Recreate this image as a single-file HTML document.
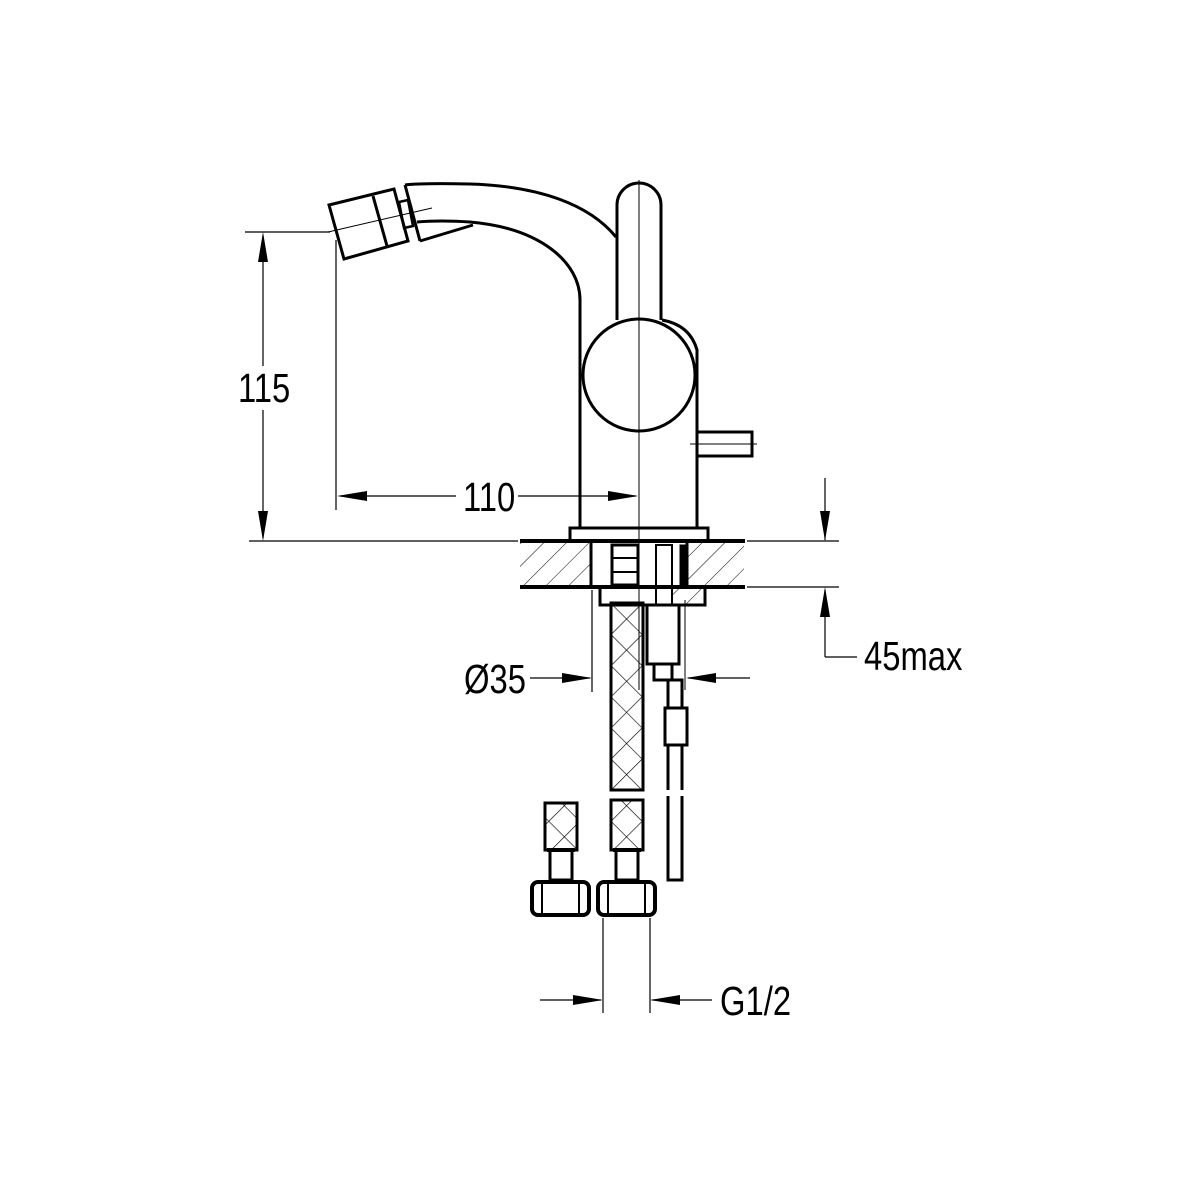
<!DOCTYPE html>
<html><head><meta charset="utf-8"><style>
html,body{margin:0;padding:0;background:#fff;}
svg{display:block}
text{font-family:"Liberation Sans",sans-serif;fill:#000;}
</style></head><body>
<svg width="1200" height="1200" viewBox="0 0 1200 1200" xmlns="http://www.w3.org/2000/svg">
<defs>
<pattern id="hatch" width="16" height="16" patternUnits="userSpaceOnUse" patternTransform="rotate(45)">
<line x1="0" y1="0" x2="0" y2="16" stroke="#000" stroke-width="1"/>
</pattern>
<pattern id="cross" width="22" height="22" patternUnits="userSpaceOnUse" patternTransform="translate(611 603) rotate(45)">
<line x1="0" y1="0" x2="0" y2="22" stroke="#000" stroke-width="1.3"/>
<line x1="0" y1="0" x2="22" y2="0" stroke="#000" stroke-width="1.3"/>
</pattern>
</defs>
<rect width="1200" height="1200" fill="#fff"/>
<g fill="none" stroke="#000">
<!-- spout -->
<path d="M405 185 Q420 183 470 184 C540 186 590 205 616 237" stroke-width="3"/>
<path d="M417 222 Q440 220 470 222 C540 228 580 262 580 300 L580 528" stroke-width="3"/>
<path d="M420 241 L473 225" stroke-width="3"/>
<path d="M405 185 L420 241" stroke-width="3"/>
<!-- nozzle -->
<polygon points="329,205 394,189 408,241 344,259" stroke-width="3"/>
<line x1="373" y1="196" x2="387" y2="246" stroke-width="3"/>
<polygon points="399,202 408,200 413,226 404,228" stroke-width="2.5"/>
<line x1="328" y1="232" x2="432" y2="208" stroke-width="1"/>
<!-- lever -->
<path d="M617 320 L617 205 A22 22 0 0 1 661 205 L661 320" stroke-width="3"/>
<circle cx="639" cy="375" r="56" stroke-width="3"/>
<path d="M662 320 Q690 325 697 350 L697 528" stroke-width="3"/>
<rect x="697" y="432" width="55" height="24" stroke-width="3"/>
<line x1="690" y1="444" x2="757" y2="444" stroke-width="1"/>
<rect x="570" y="528" width="138" height="13" stroke-width="3"/>
<line x1="639" y1="180" x2="639" y2="690" stroke-width="1"/>
<!-- counter -->
<rect x="520" y="541" width="71" height="46" fill="url(#hatch)" stroke="none"/>
<rect x="687" y="541" width="57" height="46" fill="url(#hatch)" stroke="none"/>
<line x1="520" y1="541" x2="745" y2="541" stroke-width="4"/>
<line x1="520" y1="587" x2="745" y2="587" stroke-width="4"/>
<line x1="591" y1="541" x2="591" y2="587" stroke-width="3"/>
<line x1="687" y1="541" x2="687" y2="587" stroke-width="3"/>
<!-- fittings -->
<rect x="612" y="545" width="26" height="40" stroke-width="3"/>
<line x1="612" y1="558" x2="638" y2="558" stroke-width="2"/>
<line x1="612" y1="572" x2="638" y2="572" stroke-width="2"/>
<rect x="656" y="545" width="16" height="60" stroke-width="2"/>
<rect x="680" y="545" width="6" height="42" fill="#000" stroke-width="1"/>
<rect x="600" y="587" width="105" height="18" stroke-width="3"/>
<rect x="672" y="588" width="32" height="16" fill="url(#hatch)" stroke="none"/>
<rect x="611" y="603" width="32" height="187" fill="url(#cross)" stroke-width="3"/>
<rect x="611" y="800" width="32" height="50" fill="url(#cross)" stroke-width="3"/>
<rect x="647" y="605" width="32" height="59" stroke-width="3"/>
<rect x="654" y="664" width="18" height="16" stroke-width="3"/>
<line x1="685" y1="600" x2="685" y2="690" stroke-width="1"/>
<rect x="668" y="680" width="14" height="28" stroke-width="3"/>
<rect x="665" y="708" width="22" height="37" stroke-width="3"/>
<rect x="668" y="745" width="14" height="135" stroke-width="3"/>
<line x1="664" y1="793" x2="686" y2="793" stroke="#fff" stroke-width="6"/>
<!-- right hose fitting -->
<rect x="616" y="850" width="22" height="30" stroke-width="3"/>
<line x1="613" y1="850" x2="641" y2="850" stroke-width="4"/>
<rect x="598" y="882" width="57" height="33" rx="6" stroke-width="4"/>
<line x1="608" y1="882" x2="608" y2="915" stroke-width="2"/>
<line x1="645" y1="882" x2="645" y2="915" stroke-width="2"/>
<!-- left hose -->
<rect x="545" y="803" width="32" height="47" fill="url(#cross)" stroke-width="3"/>
<rect x="550" y="850" width="22" height="30" stroke-width="3"/>
<line x1="547" y1="850" x2="575" y2="850" stroke-width="4"/>
<rect x="532" y="882" width="57" height="33" rx="6" stroke-width="4"/>
<line x1="542" y1="882" x2="542" y2="915" stroke-width="2"/>
<line x1="579" y1="882" x2="579" y2="915" stroke-width="2"/>
<!-- dimensions -->
<g stroke-width="1.2">
<line x1="245" y1="232" x2="330" y2="232"/>
<line x1="249" y1="541" x2="518" y2="541"/>
<line x1="747" y1="541" x2="839" y2="541"/>
<line x1="747" y1="587" x2="839" y2="587"/>
<line x1="263" y1="236" x2="263" y2="366"/>
<line x1="263" y1="410" x2="263" y2="538"/>
<line x1="336" y1="240" x2="336" y2="510"/>
<line x1="340" y1="496" x2="456" y2="496"/>
<line x1="518" y1="496" x2="636" y2="496"/>
<line x1="825" y1="478" x2="825" y2="540"/>
<line x1="825" y1="590" x2="825" y2="657"/>
<line x1="825" y1="657" x2="857" y2="657"/>
<line x1="592" y1="590" x2="592" y2="692"/>
<line x1="530" y1="678" x2="590" y2="678"/>
<line x1="688" y1="678" x2="750" y2="678"/>
<line x1="603" y1="918" x2="603" y2="1013"/>
<line x1="650" y1="918" x2="650" y2="1013"/>
<line x1="540" y1="1000" x2="601" y2="1000"/>
<line x1="652" y1="1000" x2="712" y2="1000"/>
</g>
</g>
<g fill="#000">
<polygon points="263,232 258,262 268,262"/>
<polygon points="263,541 258,511 268,511"/>
<polygon points="337,496 367,491 367,501"/>
<polygon points="638,496 608,491 608,501"/>
<polygon points="825,541 820,511 830,511"/>
<polygon points="825,587 820,617 830,617"/>
<polygon points="592,678 562,673 562,683"/>
<polygon points="686,678 716,673 716,683"/>
<polygon points="603,1000 573,995 573,1005"/>
<polygon points="650,1000 680,995 680,1005"/>
</g>
<text x="238" y="402" font-size="41" transform="translate(238 0) scale(0.8 1) translate(-238 0)">115</text>
<text x="463" y="511" font-size="41" transform="translate(463 0) scale(0.8 1) translate(-463 0)">110</text>
<text x="864" y="670" font-size="41" transform="translate(864 0) scale(0.8 1) translate(-864 0)">45max</text>
<text x="464" y="693" font-size="41" transform="translate(464 0) scale(0.8 1) translate(-464 0)">Ø35</text>
<text x="720" y="1015" font-size="41" transform="translate(720 0) scale(0.8 1) translate(-720 0)">G1/2</text>
</svg>
</body></html>
